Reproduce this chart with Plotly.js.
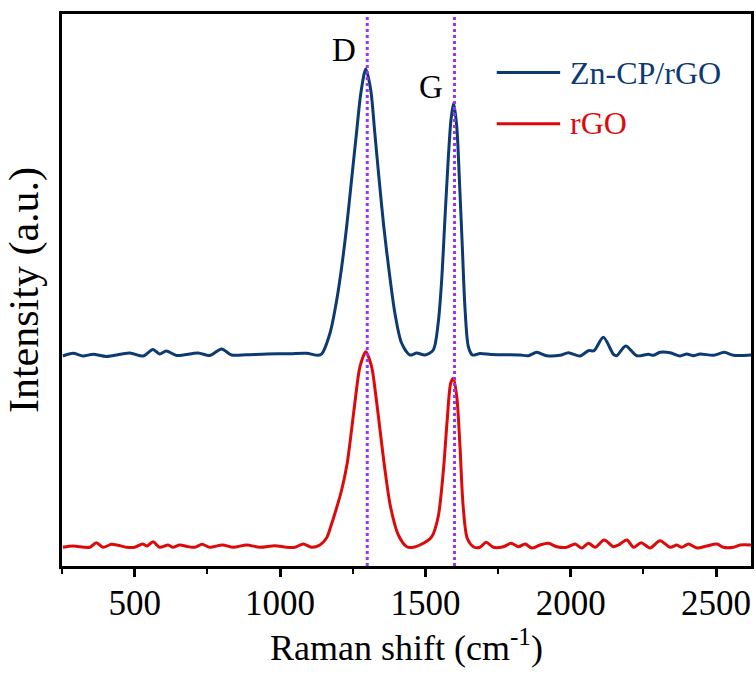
<!DOCTYPE html>
<html>
<head>
<meta charset="utf-8">
<script src="https://cdn.plot.ly/plotly-3.0.1.min.js"></script>
<style>html,body{margin:0;padding:0;background:#fff;}#chart{width:756px;height:677px;}</style>
</head>
<body>
<div id="chart"></div>
<script>
// Raman shift (cm-1) and intensity (a.u., stacked offset as drawn)
const znX = [253, 288, 322, 357, 403, 483, 529, 563, 586, 609, 644, 718, 758, 799, 833, 885, 954, 1034, 1091, 1131, 1143, 1172, 1195, 1212, 1229, 1246, 1263, 1278, 1295, 1312, 1326, 1341, 1357, 1376, 1395, 1418, 1447, 1470, 1499, 1527, 1544, 1556, 1567, 1579, 1588, 1597, 1608, 1617, 1627, 1636, 1648, 1662, 1688, 1726, 1780, 1826, 1854, 1883, 1917, 1963, 1992, 2032, 2061, 2080, 2112, 2147, 2158, 2189, 2227, 2267, 2284, 2307, 2342, 2376, 2399, 2422, 2445, 2491, 2528, 2560, 2620];
const znY = [210, 212.7, 210, 211.7, 209.5, 213, 210, 216.5, 212, 215, 210.5, 213, 210.5, 217, 211, 211.3, 212, 212.3, 212.7, 210.7, 212, 233, 266, 299, 339, 386, 433, 473, 497, 476, 433, 386, 339, 293, 253, 223, 211, 213, 211, 216, 243, 286, 346, 409, 446, 463, 439, 386, 319, 259, 219, 211, 212.5, 211.5, 211.3, 211, 210.3, 213.7, 210.3, 210.7, 213.3, 210, 215.3, 215.3, 228.7, 211.7, 210.3, 220, 210.3, 211.7, 210.7, 213.7, 213.3, 210, 212, 210.3, 212, 210.7, 213.7, 210.7, 211];

const rgoX = [253, 288, 345, 368, 391, 420, 443, 472, 500, 527, 543, 563, 586, 615, 632, 655, 684, 707, 732, 758, 802, 839, 885, 931, 982, 1022, 1051, 1080, 1108, 1137, 1160, 1175, 1189, 1212, 1231, 1246, 1260, 1275, 1295, 1315, 1330, 1344, 1361, 1380, 1407, 1436, 1458, 1493, 1522, 1544, 1562, 1575, 1587, 1596, 1608, 1619, 1630, 1644, 1665, 1688, 1709, 1734, 1768, 1795, 1820, 1843, 1866, 1894, 1923, 1952, 1986, 2015, 2038, 2061, 2084, 2115, 2147, 2164, 2193, 2216, 2242, 2273, 2307, 2342, 2365, 2382, 2405, 2434, 2468, 2503, 2525, 2560, 2583, 2620];
const rgoY = [18.7, 20, 18.7, 23.3, 18.7, 21.7, 20.7, 18.7, 18.7, 22, 20, 24.3, 18.7, 21, 18.7, 21, 19.3, 18.7, 21.7, 18.7, 21, 18.7, 21, 18.7, 20.3, 18.7, 18.7, 22, 18.7, 21, 28, 40, 52.7, 76, 102.7, 136, 169.3, 199.3, 214.3, 199.3, 169.3, 136, 96, 59.3, 31, 19.3, 18.7, 22.7, 29.3, 49.3, 96, 146, 182.7, 187.7, 169.3, 119.3, 59.3, 27.7, 19.3, 18.7, 23.7, 18.7, 19.3, 22.7, 19.3, 22, 18, 21, 22.7, 19.3, 18.7, 22, 18, 22.7, 18.7, 26, 19.3, 21, 26, 18.7, 23.3, 18, 25.3, 18.7, 21, 18.7, 22, 18, 20, 22, 18.7, 18.7, 21, 21];

const seriesNames = ['Zn-CP/rGO', 'rGO'];
const peakPositions = [1300, 1600];
const peakLabels = ['D', 'G'];
const xTickVals = [500, 1000, 1500, 2000, 2500];

const blue = '#0c3a72';
const red = '#dd0a0a';
const purple = '#9933f5';
const FONT = 'Liberation Serif, Times New Roman, serif';

const traces = [
  {x: znX, y: znY, name: seriesNames[0], type: 'scatter', mode: 'lines',
   line: {color: blue, width: 3, shape: 'spline', smoothing: 0.8}, showlegend: false},
  {x: rgoX, y: rgoY, name: seriesNames[1], type: 'scatter', mode: 'lines',
   line: {color: red, width: 3, shape: 'spline', smoothing: 0.8}, showlegend: false}
];

const shapes = peakPositions.map(p => ({
  type: 'line', xref: 'x', yref: 'paper', x0: p, x1: p, y0: 0, y1: 1,
  line: {color: purple, width: 3, dash: 'dot'}, layer: 'above'
}));
// legend lines
shapes.push({type: 'line', xref: 'paper', yref: 'paper', x0: 0.631, x1: 0.723, y0: 0.894, y1: 0.894, line: {color: blue, width: 3}});
shapes.push({type: 'line', xref: 'paper', yref: 'paper', x0: 0.631, x1: 0.723, y0: 0.801, y1: 0.801, line: {color: red, width: 3}});

const annotations = peakLabels.map((t, i) => ({
  text: t, xref: 'x', yref: 'paper', x: peakPositions[i], xanchor: 'right', xshift: -9,
  y: i === 0 ? 0.935 : 0.868, yanchor: 'middle', showarrow: false,
  font: {family: FONT, size: 33, color: '#000'}
}));
annotations.push({text: seriesNames[0], xref: 'paper', yref: 'paper', x: 0.7344, y: 0.894, xanchor: 'left', yanchor: 'middle', showarrow: false, font: {family: FONT, size: 32, color: blue}});
annotations.push({text: seriesNames[1], xref: 'paper', yref: 'paper', x: 0.7344, y: 0.803, xanchor: 'left', yanchor: 'middle', showarrow: false, font: {family: FONT, size: 32, color: red}});

const layout = {
  width: 756, height: 677,
  margin: {l: 62, r: 5, t: 14, b: 111},
  paper_bgcolor: '#fff', plot_bgcolor: '#fff',
  font: {family: FONT, color: '#000'},
  xaxis: {
    range: [250, 2620], tickvals: xTickVals, ticks: 'outside', ticklen: 8, tickwidth: 3, tickcolor: '#000',
    ticklabelstandoff: -4,
    minor: {dtick: 250, tick0: 0, ticks: 'outside', ticklen: 5, tickwidth: 2, tickcolor: '#000'},
    showline: true, linewidth: 3, linecolor: '#000', mirror: true, showgrid: false, zeroline: false,
    tickfont: {family: FONT, size: 35, color: '#000'},
    title: {text: 'Raman shift (cm<sup>-1</sup>)', font: {family: FONT, size: 36, color: '#000'}, standoff: 10}
  },
  yaxis: {
    range: [0, 552], showticklabels: false, ticks: '', showgrid: false, zeroline: false,
    showline: true, linewidth: 3, linecolor: '#000', mirror: true,
    title: {text: 'Intensity (a.u.)', font: {family: FONT, size: 42, color: '#000'}, standoff: 8}
  },
  shapes: shapes,
  annotations: annotations,
  showlegend: false
};

Plotly.newPlot('chart', traces, layout, {displayModeBar: false, staticPlot: true});
</script>
</body>
</html>
